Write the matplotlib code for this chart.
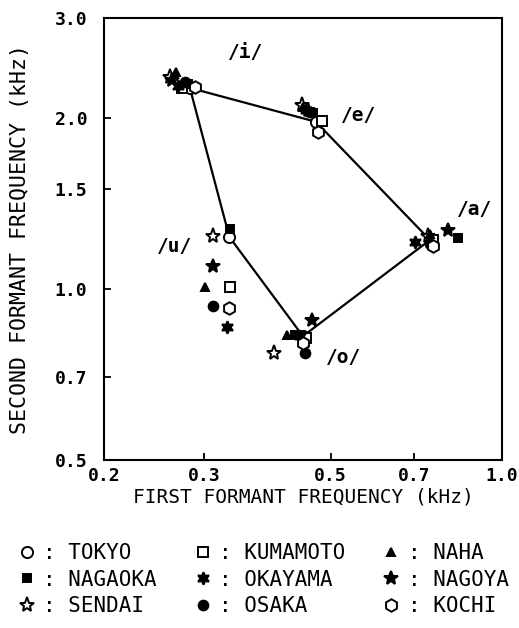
import numpy as np
import matplotlib
matplotlib.use("Agg")
import matplotlib.pyplot as plt

plt.rcParams['font.family'] = ['DejaVu Sans Mono', 'DejaVu Sans']

# vowel order i, e, a, o, u ; F1 / F2 in kHz
vowels = ['i', 'e', 'a', 'o', 'u']
cities = ['TOKYO', 'NAGAOKA', 'SENDAI', 'KUMAMOTO', 'OKAYAMA', 'OSAKA',
          'NAHA', 'NAGOYA', 'KOCHI']

f1 = {
    'TOKYO':    [0.283, 0.471, 0.747, 0.447, 0.332],
    'NAGAOKA':  [0.281, 0.466, 0.837, 0.433, 0.333],
    'SENDAI':   [0.261, 0.445, 0.741, 0.398, 0.311],
    'KUMAMOTO': [0.274, 0.483, 0.757, 0.453, 0.333],
    'OKAYAMA':  [0.270, 0.453, 0.703, 0.442, 0.329],
    'OSAKA':    [0.278, 0.460, 0.747, 0.451, 0.311],
    'NAHA':     [0.268, 0.447, 0.747, 0.419, 0.301],
    'NAGOYA':   [0.263, 0.456, 0.804, 0.464, 0.311],
    'KOCHI':    [0.289, 0.475, 0.757, 0.447, 0.332],
}
f2 = {
    'TOKYO':    [2.26, 1.97, 1.22, 0.826, 1.235],
    'NAGAOKA':  [2.30, 2.04, 1.23, 0.830, 1.275],
    'SENDAI':   [2.36, 2.11, 1.24, 0.772, 1.24],
    'KUMAMOTO': [2.26, 1.98, 1.22, 0.820, 1.01],
    'OKAYAMA':  [2.28, 2.07, 1.21, 0.826, 0.857],
    'OSAKA':    [2.31, 2.05, 1.20, 0.772, 0.933],
    'NAHA':     [2.41, 2.09, 1.25, 0.830, 1.01],
    'NAGOYA':   [2.33, 2.07, 1.27, 0.882, 1.10],
    'KOCHI':    [2.27, 1.89, 1.19, 0.804, 0.926],
}

# marker style per city: (marker, size, filled)
styles = {
    'TOKYO':    ('o', 8, False),
    'NAGAOKA':  ('s', 6, True),
    'SENDAI':   ('*', 11, False),
    'KUMAMOTO': ('s', 7, False),
    'OKAYAMA':  ((6, 1, 0), 9, True),
    'OSAKA':    ('o', 7, True),
    'NAHA':     ('^', 6, True),
    'NAGOYA':   ('*', 10, True),
    'KOCHI':    ('h', 9, False),
}

label_pos = {'i': (0.354, 2.61), 'e': (0.559, 2.02), 'a': (0.896, 1.38),
             'u': (0.266, 1.19), 'o': (0.526, 0.759)}

fig = plt.figure(figsize=(5.19, 6.28), dpi=100)
ax = fig.add_axes([0.2004, 0.2675, 0.767, 0.7038])

# Tokyo vowel polygon
px = f1['TOKYO'] + [f1['TOKYO'][0]]
py = f2['TOKYO'] + [f2['TOKYO'][0]]
ax.plot(px, py, color='black', lw=1.6, zorder=2)

handles = []
for c in cities:
    m, s, filled = styles[c]
    h, = ax.plot(f1[c], f2[c], linestyle='none', marker=m, markersize=s,
                 markerfacecolor='black' if filled else 'white',
                 markeredgecolor='black', markeredgewidth=1.4,
                 label=': ' + c, zorder=3)
    handles.append(h)

for v in vowels:
    ax.text(*label_pos[v], '/' + v + '/', fontsize=14, fontweight='bold',
            ha='center', va='center')

ax.set_xscale('log')
ax.set_yscale('log')
ax.set_xlim(0.2, 1.0)
ax.set_ylim(0.5, 3.0)
xt = [0.2, 0.3, 0.5, 0.7, 1.0]
yt = [0.5, 0.7, 1.0, 1.5, 2.0, 3.0]
ax.set_xticks(xt)
ax.set_xticklabels([f'{t:.1f}' for t in xt])
ax.set_yticks(yt)
ax.set_yticklabels([f'{t:.1f}' for t in yt])
ax.minorticks_off()
ax.tick_params(direction='in', length=5, width=1.3, labelsize=13)
ax.tick_params(axis='y', pad=12)
ax.tick_params(axis='x', pad=5)
for lab in ax.get_xticklabels() + ax.get_yticklabels():
    lab.set_fontweight('bold')
for sp in ax.spines.values():
    sp.set_linewidth(1.5)

ax.set_xlabel('FIRST FORMANT FREQUENCY (kHz)', fontsize=14, labelpad=2)
ax.set_ylabel('SECOND FORMANT FREQUENCY (kHz)', fontsize=15.5, labelpad=18)

fig.legend(handles=handles, loc='upper left', bbox_to_anchor=(0.015, 0.148),
           ncol=3, frameon=False, fontsize=15, handlelength=1.0,
           handletextpad=0.3, columnspacing=1.7, labelspacing=0.3,
           borderaxespad=0)

fig.savefig('out.png', dpi=100)
